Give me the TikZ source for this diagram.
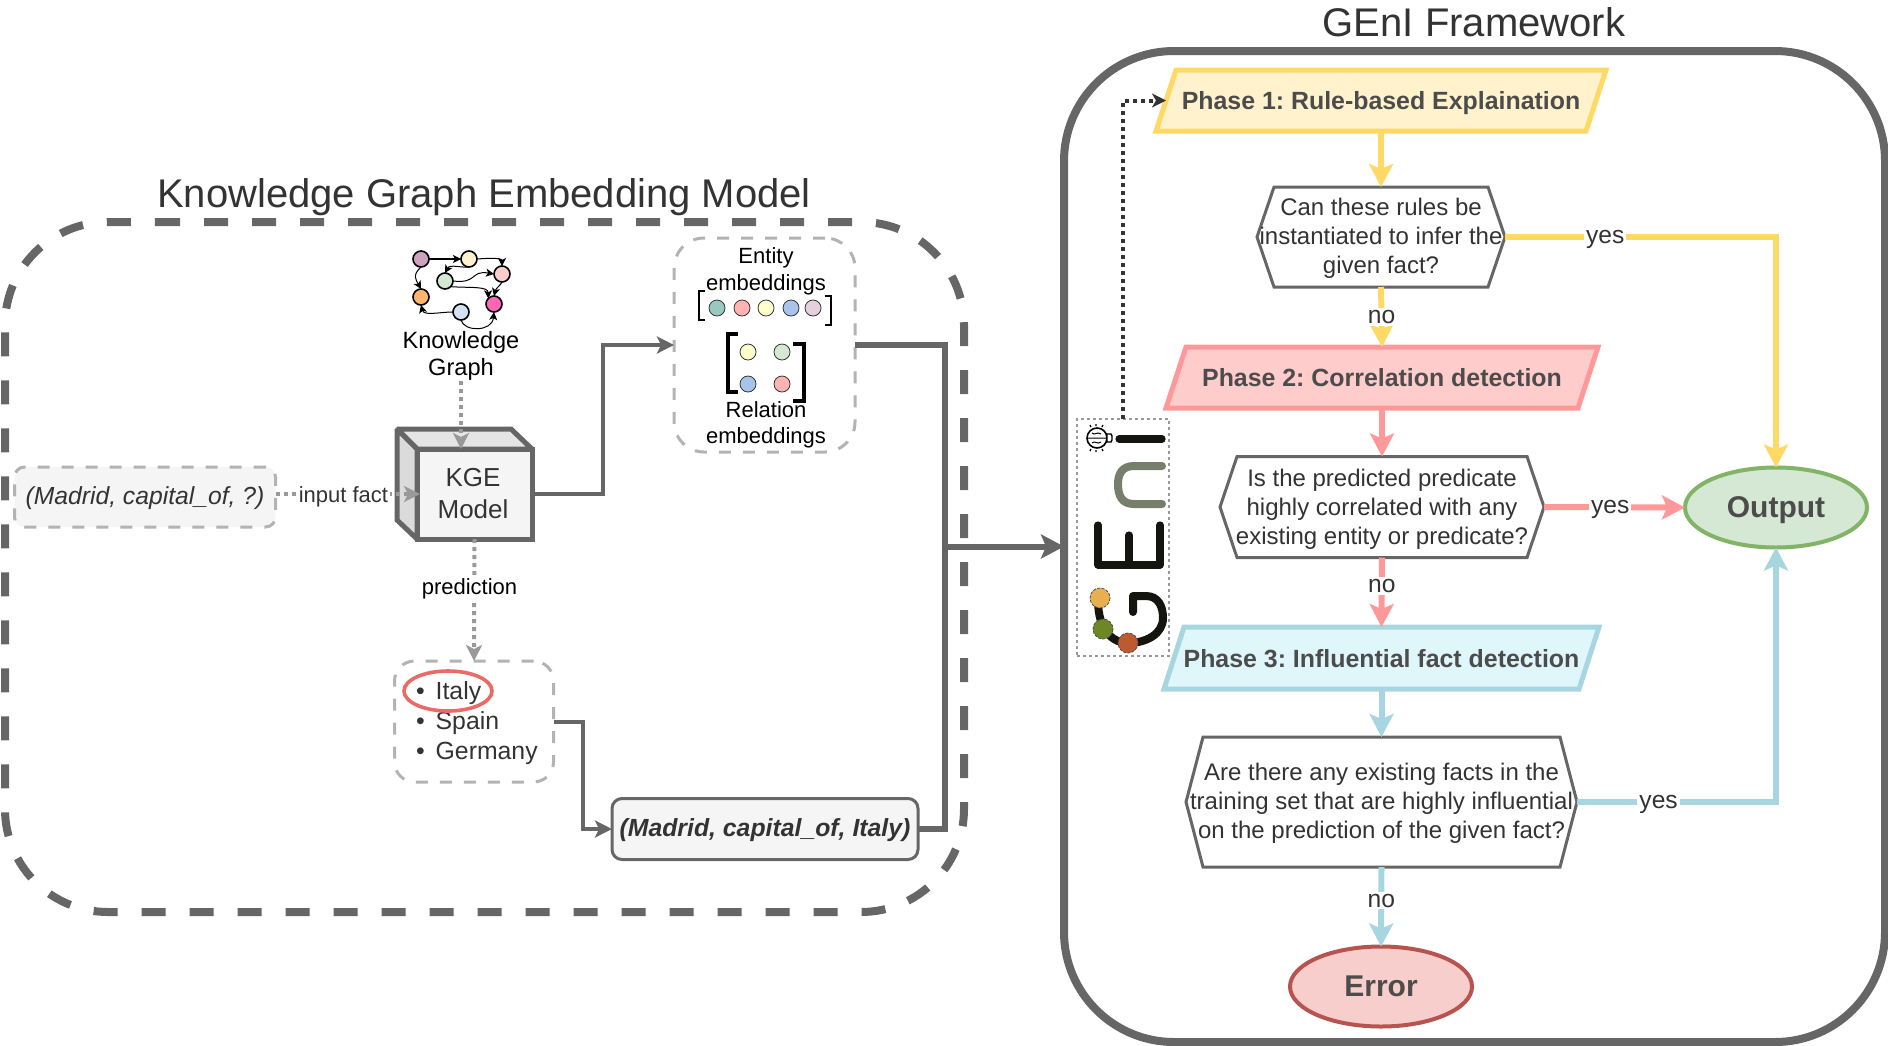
\documentclass[tikz,border=0pt]{standalone}
\usepackage{fontspec}
\setmainfont{Liberation Sans}
\usetikzlibrary{arrows.meta,calc,shapes.geometric}
\pgfdeclarelayer{background}
\pgfsetlayers{background,main}
\definecolor{ink}{HTML}{333333}
\definecolor{steel}{HTML}{666666}
\definecolor{mist}{HTML}{B3B3B3}
\definecolor{dotgray}{HTML}{999999}
\definecolor{paper}{HTML}{F5F5F5}
\definecolor{yel}{HTML}{FFD966}
\definecolor{yelf}{HTML}{FFF2CC}
\definecolor{rd}{HTML}{FF9999}
\definecolor{rdf}{HTML}{FFCCCC}
\definecolor{blu}{HTML}{A8D6E0}
\definecolor{bluf}{HTML}{DFF7FB}
\definecolor{logoblack}{HTML}{14150F}
\definecolor{logogray}{HTML}{767F6C}
\newcommand{\paral}[3]{\begin{pgfonlayer}{background}
 \draw[line width=2.5pt,draw=#2,fill=#3,line join=miter] (#1.south west) -- ($(#1.north west)+(20,0)$) -- (#1.north east) -- ($(#1.south east)-(20,0)$) -- cycle;
\end{pgfonlayer}}
\newcommand{\hexa}[1]{\begin{pgfonlayer}{background}
 \draw[line width=1.5pt,draw=steel,fill=white] (#1.west) -- ($(#1.north west)+(17,0)$) -- ($(#1.north east)-(17,0)$) -- (#1.east) -- ($(#1.south east)-(17,0)$) -- ($(#1.south west)+(17,0)$) -- cycle;
\end{pgfonlayer}}
\newcommand{\fs}[2]{\fontsize{#1}{#2}\selectfont\frenchspacing}
\tikzset{
 x=0.5pt,y=-0.5pt,
 every node/.style={inner sep=0pt,outer sep=0pt,text=ink},
 body/.style={font=\fs{12}{14.5},align=center},
 phase/.style={font=\fs{12.45}{15}\bfseries,text=black!70,text depth=0pt},
 lab/.style={font=\fs{12.3}{15},fill=white,inner sep=1pt,text depth=0pt},
 tip/.style={-{Stealth[length=11.5pt,width=12pt,inset=2.5pt]}},
 ycon/.style={draw=yel,line width=3pt,tip},
 rcon/.style={draw=rd,line width=3pt,tip},
 bcon/.style={draw=blu,line width=3pt,tip},
 dashbox/.style={draw=mist,line width=1.5pt,dash pattern=on 6pt off 6pt},
 dotcon/.style={draw=dotgray,line width=2pt,dash pattern=on 2pt off 2pt,-{Stealth[length=8pt,width=8pt,inset=2pt]}},
 solidcon/.style={draw=steel,line width=2pt,-{Stealth[length=8.5pt,width=8.5pt,inset=2pt]}},
 kgdot/.style={circle,draw=black,line width=0.8pt,minimum size=8pt},
 kgedge/.style={draw=black,line width=0.5pt,-{Stealth[length=4pt,width=4pt,inset=1pt]}},
 emc/.style={circle,draw=black!80,line width=0.4pt,minimum size=8pt},
 ell/.style={ellipse,line width=2pt,minimum width=91pt,minimum height=40pt,font=\fs{15}{18}\bfseries,text=black!70,text depth=0pt},
}
\begin{document}
\begin{tikzpicture}
\useasboundingbox (0,0) rectangle (1888,1045);
% outer containers
\node[minimum width=479.5pt,minimum height=345pt] (outer) at (484.5,567) {};
\coordinate (ostart) at (156,222);
\draw[draw=steel,line width=4pt,dash pattern=on 12pt off 12pt,rounded corners=51.5pt] (ostart) -- (outer.north east) -- (outer.south east) -- (outer.south west) -- (outer.north west) -- (ostart);
\node[draw=steel,line width=4pt,rounded corners=55pt,minimum width=410.5pt,minimum height=495.5pt] (frame) at (1474.5,546.5) {};
\node[font=\fs{20}{24},text depth=0pt] (t1) at (484,192.5) {Knowledge Graph Embedding Model};
\node[font=\fs{20}{24},text depth=0pt] (t2) at (1474,22) {GEnI Framework};

% KG icon
\node[kgdot,fill={rgb,255:red,205;green,162;blue,190}] (ka) at (421,259) {};
\node[kgdot,fill=yelf] (kb) at (469,259) {};
\node[kgdot,fill={rgb,255:red,248;green,206;blue,204}] (kc) at (502,274) {};
\node[kgdot,fill={rgb,255:red,213;green,232;blue,212}] (kd) at (445,281) {};
\node[kgdot,fill={rgb,255:red,255;green,181;blue,112}] (ke) at (421,297) {};
\node[kgdot,fill={rgb,255:red,255;green,102;blue,179}] (kf) at (494,304) {};
\node[kgdot,fill={rgb,255:red,212;green,225;blue,245}] (kg) at (461,312) {};
\draw[kgedge,line width=0.8pt] (ka) -- (kb);
\draw[kgedge] (kb.east) .. controls (490,258) and (502,258) .. (kc.north);
\draw[kgedge] (kb.south) .. controls (462,268) and (450,264) .. (kd.north);
\draw[kgedge] (kd.east) .. controls (478,284) and (470,270) .. (kc.west);
\draw[kgedge] (kd.south east) .. controls (470,288) and (488,286) .. (kf.north west);
\draw[kgedge] (kc.south) .. controls (500,286) and (496,288) .. (kf.north);
\draw[kgedge] (ka.south) .. controls (412,275) and (416,280) .. (ke.north);
\draw[kgedge] (kg.west) .. controls (440,312) and (424,316) .. (ke.south);
\draw[kgedge] (kg.south) .. controls (464,332) and (492,332) .. (kf.south);
\node[font=\fs{11.8}{13.8},align=center,text=black] (kgtext) at (461,356) {Knowledge\\Graph};

% KGE cube
\node[draw=steel,line width=2.5pt,fill=paper,minimum width=57.5pt,minimum height=45pt] (kge) at (474.5,494) {};
\node[font=\fs{13}{16},align=center] (kget) at (473,494) {KGE\\Model};
\begin{pgfonlayer}{background}
\draw[draw=steel,line width=2.5pt,fill=black!10,line join=miter,miter limit=2] (kge.north west) -- (397,429) -- (511,429) -- (kge.north east) -- cycle;
\draw[draw=steel,line width=2.5pt,fill=black!14,line join=miter,miter limit=2] (kge.north west) -- (397,429) -- (397,520) -- (kge.south west) -- cycle;
\end{pgfonlayer}

% input
\node[dashbox,fill=paper,rounded corners=5pt,minimum width=130.5pt,minimum height=30pt,font=\fs{12.35}{15}\itshape,text depth=1.2pt] (input) at (145,497) {(Madrid, capital\_of, ?)};
\draw[dotcon] (input.east |- kge.west) -- node[font=\fs{11}{14},fill=white,inner sep=1pt,pos=0.47,yshift=-1.5pt] (lf) {input fact} ($(kge.west)+(3,0)$);
\draw[dotcon] (kgtext.south) -- (kgtext.south |- kge.north);

% embeddings
\node[dashbox,rounded corners=15pt,minimum width=90.5pt,minimum height=107pt] (emb) at (764.5,345) {};
\node[font=\fs{11}{13.2},align=center,text=black] (entt) at (766,271.5) {Entity\\embeddings};
\node[font=\fs{11}{13.2},align=center,text=black] (relt) at (766,425) {Relation\\embeddings};
\node[emc,fill={rgb,255:red,154;green,199;blue,191}] (e1) at (717,308) {};
\node[emc,fill={rgb,255:red,255;green,179;blue,179}] (e2) at (742,308) {};
\node[emc,fill={rgb,255:red,255;green,255;blue,204}] (e3) at (766,308) {};
\node[emc,fill={rgb,255:red,169;green,196;blue,235}] (e4) at (791,308) {};
\node[emc,fill={rgb,255:red,230;green,208;blue,222}] (e5) at (813,308) {};
\node[emc,fill={rgb,255:red,255;green,255;blue,204}] (r1) at (748,352) {};
\node[emc,fill={rgb,255:red,213;green,232;blue,212}] (r2) at (782,352) {};
\node[emc,fill={rgb,255:red,169;green,196;blue,235}] (r3) at (748,384) {};
\node[emc,fill={rgb,255:red,255;green,179;blue,179}] (r4) at (782,384) {};
\draw[black,line width=1.3pt] (705,291) -- (699,291) -- (699,320) -- (705,320);
\draw[black,line width=1.3pt] (825,296) -- (831,296) -- (831,325) -- (825,325);
\draw[black,line width=2.2pt] (738,334) -- (728,334) -- (728,392) -- (738,392);
\draw[black,line width=2.2pt] (793,344) -- (804,344) -- (804,401) -- (793,401);

% list
\node[dashbox,rounded corners=10pt,minimum width=79.5pt,minimum height=60.5pt] (lst) at (474,721.5) {};
\node[anchor=west,font=\fs{12.4}{15}] (li1) at (416,693) {\textbullet\hspace{5.5pt}Italy};
\node[anchor=west,font=\fs{12.4}{15}] (li2) at (416,723) {\textbullet\hspace{5.5pt}Spain};
\node[anchor=west,font=\fs{12.4}{15}] (li3) at (416,753) {\textbullet\hspace{5.5pt}Germany};
\node[draw={rgb,255:red,234;green,107;blue,102},line width=1.8pt,ellipse,minimum width=44pt,minimum height=20pt] (circ) at (448,691) {};
\draw[dotcon] (kge.south) -- node[font=\fs{11}{14},fill=white,text=black,inner sep=2pt,pos=0.4,xshift=-2.4pt,yshift=-0.6pt] (lp) {prediction} (lst.north);

% fact
\node[draw=steel,line width=1.5pt,fill=paper,rounded corners=5pt,minimum width=153pt,minimum height=30.5pt,font=\fs{12.4}{15}\bfseries\itshape,text depth=1.2pt] (fact) at (765,829) {(Madrid, capital\_of, Italy)};
\draw[solidcon] (lst.east) -- (583,721.5) -- (583,829) -- (fact.west);
\draw[solidcon] (kge.east) -- (603,494) -- (603,345) -- (emb.west);
\coordinate (bus) at (945,546.5);
\draw[draw=steel,line width=3pt] (emb.east) -| (bus);
\draw[draw=steel,line width=3pt] (fact.east) -| (bus);
\draw[draw=steel,line width=3pt,tip] (bus) -- (frame.west);

% framework flow
\node[phase,minimum width=225pt,minimum height=30.5pt] (p1) at (1381,100.5) {Phase 1: Rule-based Explaination};
\node[phase,minimum width=216pt,minimum height=30.5pt] (p2) at (1382,377.5) {Phase 2: Correlation detection};
\node[phase,minimum width=217.5pt,minimum height=31pt] (p3) at (1381.5,658) {Phase 3: Influential fact detection};
\paral{p1}{yel}{yelf}
\paral{p2}{rd}{rdf}
\paral{p3}{blu}{bluf}
\node[body,minimum width=124pt,minimum height=50pt,text depth=1.35pt] (h1) at (1381,237) {Can these rules be\\instantiated to infer the\\given fact?};
\node[body,minimum width=162pt,minimum height=50.5pt,text depth=0.2pt] (h2) at (1382,507) {Is the predicted predicate\\highly correlated with any\\existing entity or predicate?};
\node[body,minimum width=195.5pt,minimum height=65pt,text depth=1.35pt] (h3) at (1381.5,802) {Are there any existing facts in the\\training set that are highly influential\\on the prediction of the given fact?};
\hexa{h1}\hexa{h2}\hexa{h3}
\node[ell,draw={rgb,255:red,130;green,179;blue,102},fill={rgb,255:red,213;green,232;blue,212}] (out) at (1776,507.5) {Output};
\node[ell,draw={rgb,255:red,184;green,84;blue,80},fill={rgb,255:red,248;green,206;blue,204}] (err) at (1381,986.5) {Error};

\draw[ycon] (p1.south) -- (h1.north);
\draw[ycon] (h1.south) -- node[lab] (n1) {no} (p2.north);
\draw[ycon] (h1.east) -| node[lab,pos=0.185] (y1) {yes} (out.north);
\draw[rcon] (p2.south) -- (h2.north);
\draw[rcon] (h2.south) -- node[lab,pos=0.41] (n2) {no} (p3.north);
\draw[rcon] (h2.east) -- node[lab,pos=0.47] (y2) {yes} (out.west);
\draw[bcon] (p3.south) -- (h3.north);
\draw[bcon] (h3.south) -- node[lab,pos=0.42] (n3) {no} (err.north);
\draw[bcon] (h3.east) -| node[lab,pos=0.205] (y3) {yes} (out.south);

% logo
\node[draw=dotgray,line width=0.7pt,dash pattern=on 1.5pt off 1.5pt,minimum width=46pt,minimum height=118.5pt] (logo) at (1123,537.5) {};
\begin{scope}[line cap=round,line join=round]
\draw[logoblack,line width=3.6pt] (1119,439) -- (1162,439);
\draw[logogray,line width=4pt] (1162,466) -- (1134,466) .. controls (1122,466) and (1118,474) .. (1118,484) .. controls (1118,496) and (1122,504) .. (1134,504) -- (1162,504);
\draw[logoblack,line width=3.6pt] (1098,525) -- (1098,565) -- (1160,565) -- (1160,525);
\draw[logoblack,line width=3.6pt] (1129,535) -- (1129,565);
\draw[logoblack,line width=4pt] (1133,612) -- (1133,596) -- (1146,596) .. controls (1158,596) and (1163,606) .. (1163,618) .. controls (1163,634) and (1146,643) .. (1128,643) .. controls (1114,643) and (1098,632) .. (1098,600);
\end{scope}
\draw[black!70,line width=0.4pt,dash pattern=on 1.5pt off 0.7pt,fill={rgb,255:red,232;green,174;blue,80}] (1100,598) circle[radius=10];
\draw[black!70,line width=0.4pt,dash pattern=on 1.5pt off 0.7pt,fill={rgb,255:red,111;green,134;blue,38}] (1103,629) circle[radius=10];
\draw[black!70,line width=0.4pt,dash pattern=on 1.5pt off 0.7pt,fill={rgb,255:red,190;green,90;blue,48}] (1128,643) circle[radius=10];
% brain with bulb
\draw[black,line width=0.8pt,fill=white] (1097,438) ellipse[x radius=10,y radius=10];
\draw[black,line width=0.7pt,fill=white] (1107,434) -- (1111,434) -- (1112,436) -- (1112,440) -- (1111,442) -- (1107,442) -- cycle;
\draw[black,line width=0.5pt] (1088,438) -- (1106,438) (1092,433) .. controls (1095,436) and (1097,431) .. (1101,434) (1092,443) .. controls (1095,440) and (1097,445) .. (1101,442);
\draw[black,line width=0.6pt] (1090,425) -- (1091,427) (1096,424) -- (1096,426) (1103,425) -- (1102,427) (1090,451) -- (1091,449) (1096,452) -- (1096,450) (1103,451) -- (1102,449);
\draw[draw=ink,line width=2pt,dash pattern=on 2pt off 2pt,-{Stealth[length=7pt,width=7pt,inset=2pt]}] (logo.north) |- ($(p1.west)+(10,0)$);
\end{tikzpicture}
\end{document}
